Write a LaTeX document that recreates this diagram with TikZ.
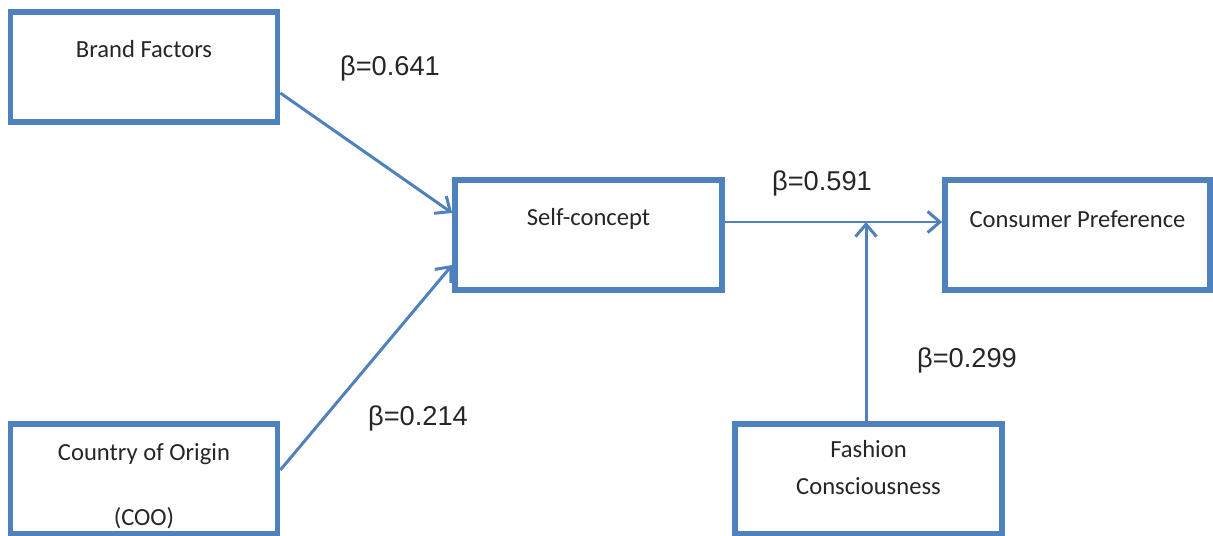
\documentclass[tikz,border=0pt]{standalone}
\usepackage{fontspec}
\setmainfont{Carlito}
\newfontfamily\betafont{Liberation Sans}
\usetikzlibrary{positioning, arrows.meta}
\definecolor{boxblue}{RGB}{79,129,189}

\begin{document}
\begin{tikzpicture}[
    factor/.style={draw=boxblue, line width=3.2pt, fill=white, minimum width=5.34cm, minimum height=2.2cm, inner sep=0pt},
    boxtext/.style={font=\fontsize{14}{16}\selectfont, text=black!85, inner sep=0pt, align=center},
    betatext/.style={font=\betafont\fontsize{15.5}{18}\selectfont, text=black!85, inner sep=0pt},
    path/.style={draw=boxblue, line width=1.7pt, -{Straight Barb[length=7pt, width=12pt, line width=1.7pt]}}
]
    \useasboundingbox (0,0) rectangle (24.26,10.7);

    % boxes
    \node[factor] (bf) at (2.88,9.36) {};
    \node[factor] (sc) at (11.77,6.0) {};
    \node[factor, minimum width=5.3cm] (cp) at (21.55,6.0) {};
    \node[factor] (coo) at (2.88,1.12) {};
    \node[factor] (fc) at (17.37,1.12) {};

    % box texts, sitting above the box centre
    \node[boxtext] (bft) at ([yshift=-0.8cm]bf.north) {Brand Factors};
    \node[boxtext] (sct) at ([yshift=-0.84cm]sc.north) {Self-concept};
    \node[boxtext] (cpt) at ([yshift=-0.84cm]cp.north) {Consumer Preference};
    \node[boxtext] (coot) at ([yshift=-0.66cm]coo.north) {Country of Origin};
    \node[boxtext, below=0.85cm of coot] (coot2) {(COO)};
    \node[boxtext] (fct) at ([yshift=-0.56cm]fc.north) {Fashion};
    \node[boxtext, below=0.38cm of fct] (fct2) {Consciousness};

    % paths
    \draw[path] ([yshift=-0.52cm]bf.east) -- ([yshift=0.44cm]sc.west);
    \draw[path] ([yshift=0.18cm]coo.east) -- ([yshift=-0.6cm]sc.west);
    \draw[path] ([yshift=0.26cm]sc.east) -- ([yshift=0.26cm]cp.west);
    \draw[path] ([xshift=-0.05cm]fc.north) -- ([xshift=-0.05cm,yshift=0.26cm]fc.north |- sc.east);

    % coefficients
    \node[betatext] (b1) at (7.8,9.34) {β=0.641};
    \node[betatext] (b2) at (16.44,7.04) {β=0.591};
    \node[betatext] (b3) at (19.34,3.5) {β=0.299};
    \node[betatext] (b4) at (8.36,2.34) {β=0.214};
\end{tikzpicture}
\end{document}
